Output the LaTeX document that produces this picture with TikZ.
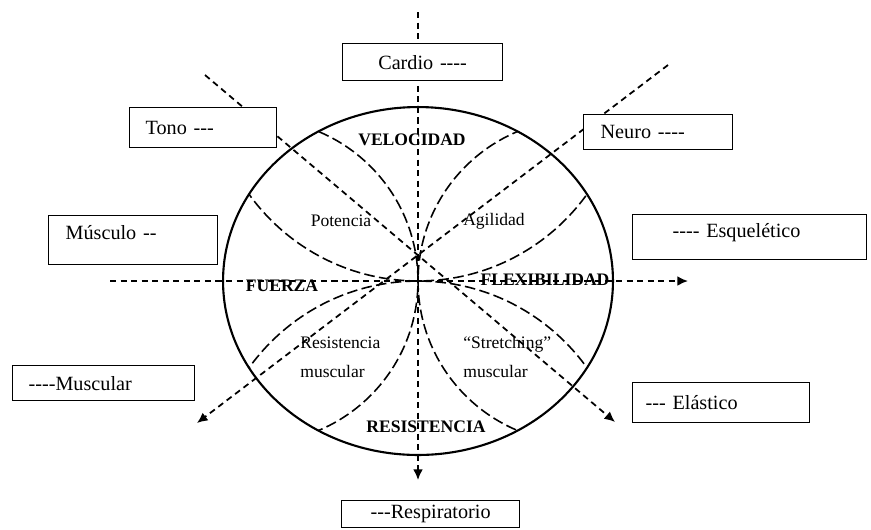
\documentclass[tikz,border=0pt]{standalone}
\usepackage{fontspec}
\setmainfont{Liberation Serif}[Ligatures=TeXOff]
\usetikzlibrary{arrows.meta}
\tikzset{
  boxnode/.style={draw, line width=0.7pt, fill=white, anchor=north west,
    align=left, inner ysep=0pt, font=\fontsize{11.5}{13}\selectfont},
  axisline/.style={line width=1pt, dash pattern=on 3.5pt off 2.5pt},
  petal/.style={line width=0.9pt, dash pattern=on 6pt off 2.5pt},
  zonelabel/.style={font=\bfseries\fontsize{10}{12}\selectfont},
  sublabel/.style={font=\fontsize{10}{16.5}\selectfont},
}

\begin{document}
\begin{tikzpicture}[x=0.02cm, y=-0.02cm]
  \useasboundingbox (0,0) rectangle (871,529);
  \coordinate (o) at (418,281);
  \coordinate (vtop) at (418,12);
  \coordinate (vbot) at (418,480);
  \coordinate (hleft) at (110,281);
  \coordinate (hright) at (688,281);
  \coordinate (dtl) at (205,75);
  \coordinate (dbr) at (615,422);
  \coordinate (dtr) at (668,65);
  \coordinate (dbl) at (197,423);

  \draw [axisline, ->, >={Latex[length=6pt,width=5.5pt]}] (vtop) -- (vbot);
  \draw [axisline, ->, >={Latex[length=6pt,width=5.5pt]}] (hleft) -- (hright);
  \draw [axisline, ->, >={Latex[length=6pt,width=5.5pt]}] (dtl) -- (dbr);
  \draw [axisline, ->, >={Latex[length=6pt,width=5.5pt]}] (dtr) -- (dbl);

  \draw [line width=1.2pt] (o) ellipse [x radius=3.9cm, y radius=3.48cm];
  \begin{scope}
    \clip (o) ellipse [x radius=3.9cm, y radius=3.48cm];
    \draw [petal] (256,281) circle [radius=3.24cm];
    \draw [petal] (580,281) circle [radius=3.24cm];
    \draw [petal] (418,73) circle [radius=4.16cm];
    \draw [petal] (418,489) circle [radius=4.16cm];
  \end{scope}

  \node [zonelabel] (velocidad) at (412,140) {VELOCIDAD};
  \node [zonelabel] (fuerza) at (282,286) {FUERZA};
  \node [zonelabel] (flexibilidad) at (545,280) {FLEXIBILIDAD};
  \node [zonelabel] (resistencia) at (426,427) {RESISTENCIA};
  \node [sublabel] (potencia) at (341,221) {Potencia};
  \node [sublabel] (agilidad) at (494,221) {Agilidad};
  \node [sublabel, anchor=west, align=left, inner xsep=0pt] (resmusc) at (300,357)
    {Resistencia\\muscular};
  \node [sublabel, anchor=west, align=left, inner xsep=0pt] (stretch) at (463,357)
    {“Stretching”\\muscular};

  \node [boxnode, align=center, text width=2.8cm, inner xsep=0.2cm,
    minimum height=0.74cm] (cardio) at (342,43) {Cardio ----};
  \node [boxnode, text width=2.30cm, inner xsep=0.32cm,
    minimum height=0.80cm] (tono) at (129,107) {Tono ---};
  \node [boxnode, text width=2.30cm, inner xsep=0.34cm,
    minimum height=0.70cm] (neuro) at (583,114) {Neuro ----};
  \node [boxnode, text width=2.70cm, inner xsep=0.34cm, minimum height=0.98cm,
    text height=0.3cm, text depth=0.32cm] (musculo) at (48,215) {Músculo --};
  \node [boxnode, text width=3.08cm, inner xsep=0.80cm, minimum height=0.90cm,
    text height=0.3cm, text depth=0.28cm] (esqueletico) at (632,214) {---- Esquelético};
  \node [boxnode, text width=3.00cm, inner xsep=0.32cm,
    minimum height=0.70cm] (muscular) at (12,365) {----Muscular};
  \node [boxnode, text width=3.02cm, inner xsep=0.26cm,
    minimum height=0.80cm] (elastico) at (632,382) {--- Elástico};
  \node [boxnode, align=center, text width=3.16cm, inner xsep=0.2cm,
    minimum height=0.54cm] (respiratorio) at (341,500) {---Respiratorio};
\end{tikzpicture}
\end{document}
